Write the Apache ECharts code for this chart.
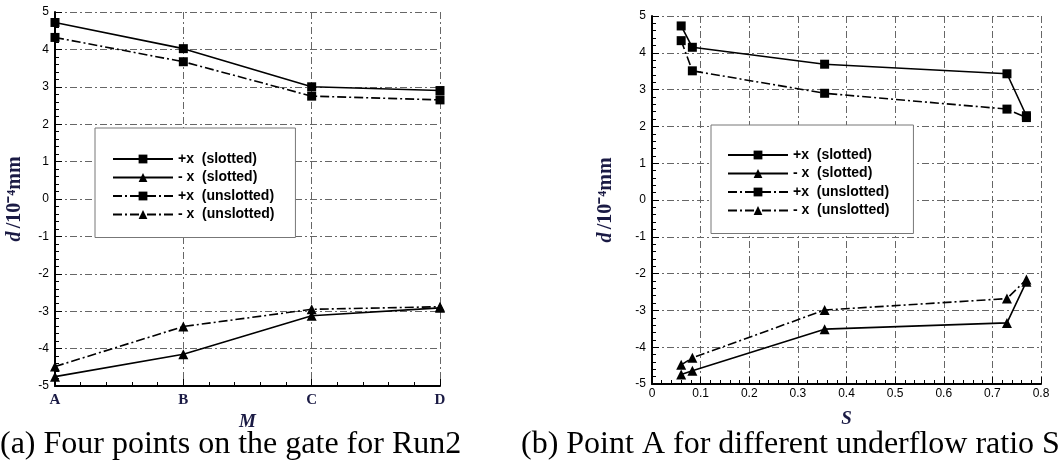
<!DOCTYPE html>
<html>
<head>
<meta charset="utf-8">
<script src="https://cdn.jsdelivr.net/npm/echarts@6/dist/echarts.min.js"></script>
<style>
  html, body { margin: 0; padding: 0; background: #fff; }
  #main { width: 1062px; height: 468px; }
</style>
</head>
<body>
<div id="main"></div>
<script>
// (a) four points on the gate, Run2
var points = ['A', 'B', 'C', 'D'];
var posSlotA = [4.72, 4.02, 3.0, 2.9];
var negSlotA = [-4.75, -4.15, -3.12, -2.91];
var posUnslotA = [4.32, 3.67, 2.75, 2.65];
var negUnslotA = [-4.48, -3.41, -2.95, -2.88];

// (b) point A, different underflow ratio S
var ratioS = [0.06, 0.083, 0.355, 0.73, 0.77];
var posSlotB = [4.73, 4.15, 3.69, 3.43, 2.29];
var negSlotB = [-4.74, -4.64, -3.51, -3.34, -2.22];
var posUnslotB = [4.33, 3.51, 2.9, 2.47, 2.24];
var negUnslotB = [-4.48, -4.29, -2.99, -2.68, -2.16];

var names = ['+x  (slotted)', '- x  (slotted)', '+x  (unslotted)', '- x  (unslotted)'];
var yTicks = [-5, -4, -3, -2, -1, 0, 1, 2, 3, 4, 5];

var dashDot = [9, 3, 2, 3];
var gridDash = [7, 3, 2, 3];
var navy = '#1a1a44';

function pairs(xs, ys) {
    return ys.map(function (v, i) { return [xs[i], v]; });
}
var idx = points.map(function (p, i) { return i; });

function mkSeries(name, data, sym, dashed, xi) {
    return {
        name: name, type: 'line', xAxisIndex: xi, yAxisIndex: xi,
        data: data, symbol: sym, symbolSize: sym === 'rect' ? 9 : 10,
        itemStyle: { color: '#000' },
        lineStyle: { color: '#000', width: 1.6, type: dashed ? dashDot : 'solid' },
        animation: false
    };
}

function yAxis(gi) {
    return {
        type: 'value', gridIndex: gi, min: -5, max: 5, interval: 1,
        name: '{i|d} {n|/10⁻⁴mm}', nameLocation: 'middle', nameGap: gi ? 36 : 30,
        nameTextStyle: { rich: {
            i: { fontFamily: 'Liberation Serif', fontWeight: 'bold', fontStyle: 'italic', fontSize: 20, color: navy },
            n: { fontFamily: 'Liberation Serif', fontWeight: 'bold', fontSize: 20, color: navy }
        } },
        axisLine: { show: true, onZero: false, lineStyle: { color: '#000', width: 2 } },
        axisTick: { inside: true, length: 7, lineStyle: { color: '#000' } },
        minorTick: { show: true, splitNumber: 5, length: 4, lineStyle: { color: '#000' } },
        axisLabel: { fontFamily: 'Liberation Sans', fontSize: 12, color: '#000', margin: 6,
            formatter: function (v) { return yTicks.indexOf(v) >= 0 ? String(v) : ''; } },
        splitLine: { show: true, lineStyle: { color: '#666', type: gridDash, width: 1 } }
    };
}

function legend(left, top, pad) {
    return {
        data: names, orient: 'vertical', left: left, top: top,
        itemWidth: 60, itemHeight: 11, itemGap: 4.5,
        backgroundColor: '#fff', borderColor: '#777', borderWidth: 1, borderRadius: 0,
        padding: pad,
        textStyle: { fontFamily: 'Liberation Sans', fontWeight: 'bold', fontSize: 14, color: '#000' },
        selectedMode: false
    };
}

var capStyle = { fontFamily: 'Liberation Serif', fontWeight: 'normal', fontSize: 32, color: '#000' };

var chart = echarts.init(document.getElementById('main'), null, { renderer: 'canvas' });
var option = {
    backgroundColor: '#fff',
    animation: false,
    title: [
        { text: '(a) Four points on the gate for Run2', left: 0, top: 429, padding: 0, textStyle: capStyle },
        { text: '(b) Point A for different underflow ratio S', left: 521, top: 429, padding: 0, textStyle: capStyle }
    ],
    grid: [
        { left: 55, top: 12, width: 385, height: 374 },
        { left: 652, top: 16, width: 389, height: 368 }
    ],
    legend: [
        legend(95, 128, [24, 21, 16, 17]),
        legend(711, 125, [23, 24, 16, 16])
    ],
    xAxis: [
        {
            type: 'value', gridIndex: 0, min: 0, max: 3, interval: 1,
            name: 'M', nameLocation: 'middle', nameGap: 25,
            nameTextStyle: { fontFamily: 'Liberation Serif', fontWeight: 'bold', fontStyle: 'italic', fontSize: 19, color: navy },
            axisLine: { show: true, onZero: false, lineStyle: { color: '#000', width: 2 } },
            axisTick: { inside: true, length: 7, lineStyle: { color: '#000' } },
            minorTick: { show: true, splitNumber: 5, length: 4, lineStyle: { color: '#000' } },
            axisLabel: { fontFamily: 'Liberation Serif', fontWeight: 'bold', fontSize: 15, color: navy, margin: 7,
                formatter: function (v) { return points[v] || ''; } },
            splitLine: { show: true, lineStyle: { color: '#666', type: gridDash, width: 1 } }
        },
        {
            type: 'value', gridIndex: 1, min: 0, max: 0.8, interval: 0.1,
            name: 'S', nameLocation: 'middle', nameGap: 26,
            nameTextStyle: { fontFamily: 'Liberation Serif', fontWeight: 'bold', fontStyle: 'italic', fontSize: 19, color: navy },
            axisLine: { show: true, onZero: false, lineStyle: { color: '#000', width: 2 } },
            axisTick: { inside: true, length: 7, lineStyle: { color: '#000' } },
            minorTick: { show: true, splitNumber: 5, length: 4, lineStyle: { color: '#000' } },
            axisLabel: { fontFamily: 'Liberation Sans', fontSize: 12, color: '#000', margin: 4,
                formatter: function (v) { return String(Math.round(v * 10) / 10); } },
            splitLine: { show: true, lineStyle: { color: '#666', type: gridDash, width: 1 } }
        }
    ],
    yAxis: [yAxis(0), yAxis(1)],
    series: [
        mkSeries(names[0], pairs(idx, posSlotA), 'rect', false, 0),
        mkSeries(names[1], pairs(idx, negSlotA), 'triangle', false, 0),
        mkSeries(names[2], pairs(idx, posUnslotA), 'rect', true, 0),
        mkSeries(names[3], pairs(idx, negUnslotA), 'triangle', true, 0),
        mkSeries(names[0], pairs(ratioS, posSlotB), 'rect', false, 1),
        mkSeries(names[1], pairs(ratioS, negSlotB), 'triangle', false, 1),
        mkSeries(names[2], pairs(ratioS, posUnslotB), 'rect', true, 1),
        mkSeries(names[3], pairs(ratioS, negUnslotB), 'triangle', true, 1)
    ]
};
chart.setOption(option);
</script>
</body>
</html>
